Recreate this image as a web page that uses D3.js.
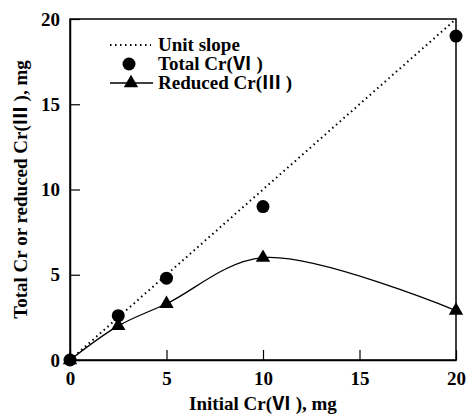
<!DOCTYPE html>
<html>
<head>
<meta charset="utf-8">
<script src="https://cdn.jsdelivr.net/npm/d3@7"></script>
<style>
  body { margin: 0; background: #fff; }
  svg text { font-family: "Liberation Serif", "Noto Sans CJK SC", serif; font-weight: bold; fill: #000; }
</style>
</head>
<body>
<svg id="chart" width="467" height="416"></svg>
<script>
// data
const initialCr = [0, 2.5, 5, 10, 20];
const totalCr = [0, 2.6, 4.8, 9, 19];
const reducedCr = [0, 2.0, 3.3, 6.0, 2.9];
const unitSlope = [[0, 0], [20, 20]];
const tickValues = [0, 5, 10, 15, 20];
const legendItems = ['Unit slope', 'Total Cr(Ⅵ )', 'Reduced Cr(Ⅲ )'];

const svg = d3.select('#chart');
const margin = { left: 70, right: 11, top: 19, bottom: 56 };
const width = 467, height = 416;
const fontSize = '19px';

const x = d3.scaleLinear().domain([0, 20]).range([margin.left, width - margin.right]);
const y = d3.scaleLinear().domain([0, 20]).range([height - margin.bottom, margin.top]);

// frame
svg.append('rect')
  .attr('x', x(0)).attr('y', y(20))
  .attr('width', x(20) - x(0)).attr('height', y(0) - y(20))
  .attr('fill', 'none').attr('stroke', '#000').attr('stroke-width', 1.5);

// axes with inward ticks
const xAxis = svg.append('g')
  .attr('transform', `translate(0,${y(0)})`)
  .call(d3.axisBottom(x).tickValues(tickValues).tickSizeInner(-10).tickSizeOuter(0).tickPadding(12));
const yAxis = svg.append('g')
  .attr('transform', `translate(${x(0)},0)`)
  .call(d3.axisLeft(y).tickValues(tickValues).tickSizeInner(-10).tickSizeOuter(0).tickPadding(10));

for (const ax of [xAxis, yAxis]) {
  ax.attr('font-family', null);
  ax.select('.domain').attr('stroke-width', 1.5);
  ax.selectAll('.tick line').attr('stroke-width', 1.2);
  ax.selectAll('.tick text').style('font-size', fontSize);
}

// axis titles
svg.append('text')
  .attr('x', (x(0) + x(20)) / 2).attr('y', 410)
  .attr('text-anchor', 'middle')
  .style('font-size', fontSize)
  .text('Initial Cr(Ⅵ ), mg');
svg.append('text')
  .attr('transform', `translate(27,${(y(0) + y(20)) / 2}) rotate(-90)`)
  .attr('text-anchor', 'middle')
  .style('font-size', fontSize)
  .text('Total Cr or reduced Cr(Ⅲ ), mg');

// unit slope
svg.append('path')
  .attr('d', d3.line().x(d => x(d[0])).y(d => y(d[1]))(unitSlope))
  .attr('fill', 'none').attr('stroke', '#000')
  .attr('stroke-width', 2).attr('stroke-dasharray', '1.5,3.5');

// reduced Cr(III) smooth curve
const reducedPts = initialCr.map((v, i) => [v, reducedCr[i]]);
svg.append('path')
  .attr('d', d3.line().x(d => x(d[0])).y(d => y(d[1])).curve(d3.curveCatmullRom.alpha(0.5))(reducedPts))
  .attr('fill', 'none').attr('stroke', '#000').attr('stroke-width', 1.3);

const triangle = d3.symbol().type(d3.symbolTriangle).size(90);
svg.append('g').selectAll('path')
  .data(reducedPts)
  .join('path')
  .attr('d', triangle)
  .attr('transform', d => `translate(${x(d[0])},${y(d[1])})`)
  .attr('fill', '#000');

// total Cr circles
svg.append('g').selectAll('circle')
  .data(initialCr.map((v, i) => [v, totalCr[i]]))
  .join('circle')
  .attr('cx', d => x(d[0])).attr('cy', d => y(d[1]))
  .attr('r', 6.5).attr('fill', '#000');

// legend
const legend = svg.append('g').attr('transform', 'translate(110,45)');
legendItems.forEach((label, i) => {
  const row = legend.append('g').attr('transform', `translate(0,${i * 19})`);
  if (i === 0) {
    row.append('line').attr('x1', 0).attr('x2', 41)
      .attr('stroke', '#000').attr('stroke-width', 2).attr('stroke-dasharray', '1.5,3.5');
  } else if (i === 1) {
    row.append('circle').attr('cx', 19).attr('r', 6.5).attr('fill', '#000');
  } else {
    row.append('line').attr('x1', 0).attr('x2', 43).attr('stroke', '#000').attr('stroke-width', 1.3);
    row.append('path').attr('d', triangle).attr('transform', 'translate(21,0)').attr('fill', '#000');
  }
  row.append('text').attr('x', 48).attr('y', 6).style('font-size', fontSize).text(label);
});
</script>
</body>
</html>
